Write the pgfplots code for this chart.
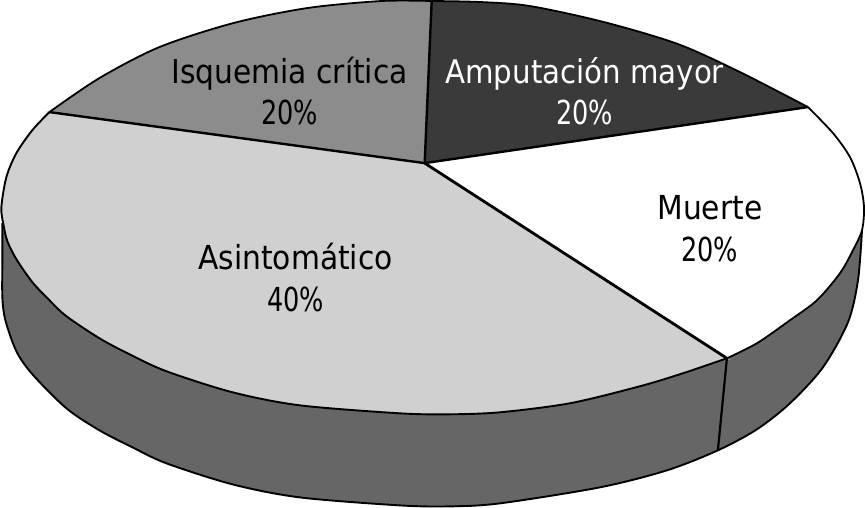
\documentclass[border=0pt]{standalone}
\usepackage{fontspec}
\setmainfont{DejaVu Sans Condensed}
\usepackage{graphicx}
\usepackage{pgfplots}
\pgfplotsset{compat=1.18}
\definecolor{cside}{HTML}{666666}
\definecolor{cdark}{HTML}{3A3A3A}
\definecolor{cmid}{HTML}{8C8C8C}
\definecolor{clight}{HTML}{D0D0D0}
\newcommand{\pct}[1]{\scalebox{0.86}[1]{#1\%}}
\begin{document}
\begin{tikzpicture}
\begin{axis}[
  scale only axis, width=865pt, height=507pt,
  xmin=0, xmax=865, ymin=0, ymax=507, y dir=reverse,
  axis lines=none, clip=true,
  every axis plot post/.append style={mark=none},
  cycle list={{black}},
]
% side of the cylinder
\addplot[smooth, fill=cside, draw=none] coordinates {
(3,223)(3,260)(3,297)(6,320)(17,351)(33,374)(67,408)(100,430)(133,447)(167,463)(233,484)(300,497)(400,505)(450,506)(500,503)(600,487)(667,470)(718,450)(757,429)(790,403)(823,367)(848,322)(858,280)(862,230)};
\addplot[smooth, draw=black, line width=1.9pt] coordinates {
(3,223)(3,260)(3,297)(6,320)(17,351)(33,374)(67,408)(100,430)(133,447)(167,463)(233,484)(300,497)(400,505)(450,506)(500,503)(600,487)(667,470)(718,450)(757,429)(790,403)(823,367)(848,322)(858,280)(862,230)};
\addplot[black, line width=2.2pt] coordinates {(727,358)(718,450)};
% wedge bodies
\addplot[fill=cdark, draw=cdark, line width=1pt] coordinates {(425,163)(432,1)(808,107)(425,163)};
\addplot[fill=white, draw=white, line width=1pt] coordinates {(425,163)(808,107)(727,358)(425,163)};
\addplot[fill=clight, draw=clight, line width=1pt] coordinates {(425,163)(727,358)(50,112)(425,163)};
\addplot[fill=cmid, draw=cmid, line width=1pt] coordinates {(425,163)(50,112)(432,1)(425,163)};
% wedge rims: fill
\addplot[smooth, fill=cdark, draw=none] coordinates {
(432,1)(480,2)(530,6)(604,22)(678,44)(740,72)(808,107)};
\addplot[smooth, fill=white, draw=none] coordinates {
(808,107)(833,133)(850,157)(860,183)(864,207)(862,230)(853,250)(840,273)(817,300)(790,320)(757,343)(727,358)};
\addplot[smooth, fill=clight, draw=none] coordinates {
(727,358)(683,373)(640,386)(570,403)(500,412)(450,414)(400,413)(300,405)(233,392)(167,371)(130,354)(100,338)(67,316)(50,300)(33,282)(17,259)(8,241)(4,224)(2,207)(7,177)(17,153)(33,130)(50,112)};
\addplot[smooth, fill=cmid, draw=none] coordinates {
(50,112)(100,78)(160,47)(234,23)(308,8)(382,1)(432,1)};
% wedge rims: stroke
\addplot[smooth, draw=black, line width=1.8pt] coordinates {
(432,1)(480,2)(530,6)(604,22)(678,44)(740,72)(808,107)};
\addplot[smooth, draw=black, line width=1.8pt] coordinates {
(808,107)(833,133)(850,157)(860,183)(864,207)(862,230)(853,250)(840,273)(817,300)(790,320)(757,343)(727,358)};
\addplot[smooth, draw=black, line width=1.9pt] coordinates {
(727,358)(683,373)(640,386)(570,403)(500,412)(450,414)(400,413)(300,405)(233,392)(167,371)(130,354)(100,338)(67,316)(50,300)(33,282)(17,259)(8,241)(4,224)(2,207)(7,177)(17,153)(33,130)(50,112)};
\addplot[smooth, draw=black, line width=1.8pt] coordinates {
(50,112)(100,78)(160,47)(234,23)(308,8)(382,1)(432,1)};
% spokes
\addplot[black, line width=2.4pt] coordinates {(432,1)(425,163)};
\addplot[black, line width=2.4pt] coordinates {(808,107)(425,163)};
\addplot[black, line width=2.8pt] coordinates {(727,358)(425,163)};
\addplot[black, line width=2.4pt] coordinates {(50,112)(425,163)};
% labels
\node[anchor=base, font=\fontsize{33}{33}\selectfont, text=black] at (axis cs:290,83) {Isquemia crítica};
\node[anchor=base, font=\fontsize{33}{33}\selectfont, text=black] at (axis cs:290,124) {\pct{20}};
\node[anchor=base, font=\fontsize{32.5}{33}\selectfont, text=white] at (axis cs:585,83) {Amputación mayor};
\node[anchor=base, font=\fontsize{33}{33}\selectfont, text=white] at (axis cs:585,124) {\pct{20}};
\node[anchor=base, font=\fontsize{33}{33}\selectfont, text=black] at (axis cs:710,219) {Muerte};
\node[anchor=base, font=\fontsize{33}{33}\selectfont, text=black] at (axis cs:710,261) {\pct{20}};
\node[anchor=base, font=\fontsize{33}{33}\selectfont, text=black] at (axis cs:296,269) {Asintomático};
\node[anchor=base, font=\fontsize{33}{33}\selectfont, text=black] at (axis cs:296,311) {\pct{40}};
\end{axis}
\end{tikzpicture}
\end{document}
